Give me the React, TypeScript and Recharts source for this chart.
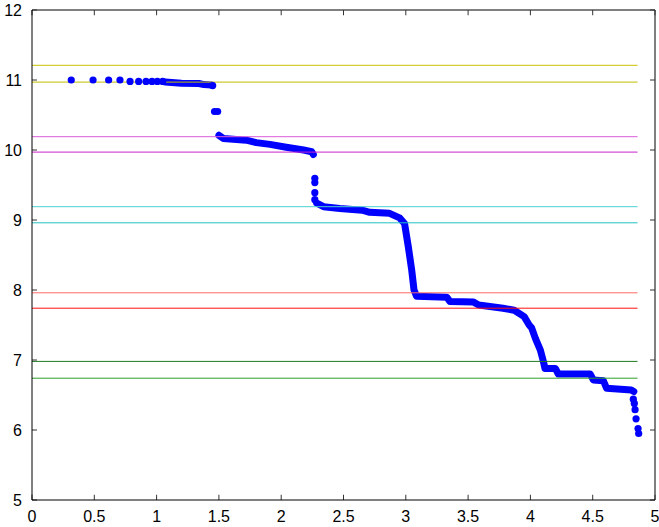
import { ComposedChart, Line, Scatter, XAxis, YAxis, ReferenceLine } from 'recharts'

const X_TICKS = [0, 0.5, 1, 1.5, 2, 2.5, 3, 3.5, 4, 4.5, 5]
const Y_TICKS = [5, 6, 7, 8, 9, 10, 11, 12]

// horizontal threshold lines (pairs), drawn from x=0 to LEVEL_END
const LEVEL_END = 4.86
const LEVELS = [11.21, 10.97, 10.19, 9.97, 9.19, 8.96, 7.96, 7.74, 6.98, 6.74]
const LEVEL_COLORS = [
  '#c8c400', '#c0bc00',
  '#dc5cdc', '#cc22cc',
  '#4cd0d0', '#22c0c0',
  '#ff6a6a', '#ff1010',
  '#1f7a1f', '#2ca02c',
]

// isolated markers
const SINGLE_X = [0.315, 0.49, 0.615, 0.706, 0.787, 0.856, 0.915, 0.963, 1.006, 1.049, 1.45, 1.465, 1.49,
  2.27, 2.27, 2.27, 2.27, 4.826, 4.834, 4.84, 4.848, 4.864, 4.869]
const SINGLE_Y = [11.0, 11.0, 11.0, 11.0, 10.98, 10.98, 10.98, 10.98, 10.98, 10.98, 10.92, 10.55, 10.55,
  9.595, 9.535, 9.39, 9.29, 6.44, 6.38, 6.29, 6.16, 6.02, 5.95]

// dense runs of markers, read as polylines
const BAND_1_X = [1.07, 1.2, 1.34, 1.38, 1.44]
const BAND_1_Y = [10.97, 10.955, 10.95, 10.935, 10.93]
const BAND_2_X = [1.5, 1.535, 1.72, 1.8, 1.91, 2.04, 2.18, 2.245, 2.258]
const BAND_2_Y = [10.21, 10.165, 10.14, 10.105, 10.08, 10.04, 10.0, 9.975, 9.935]
const BAND_3_X = [2.285, 2.34, 2.47, 2.65, 2.71, 2.87, 2.95, 2.99, 3.02, 3.047, 3.066, 3.087, 3.33, 3.355,
  3.54, 3.585, 3.78, 3.87, 3.95, 3.99, 4.01, 4.04, 4.08, 4.104, 4.117, 4.2, 4.224, 4.48, 4.505, 4.585,
  4.612, 4.81, 4.83]
const BAND_3_Y = [9.24, 9.19, 9.165, 9.14, 9.11, 9.095, 9.03, 8.95, 8.62, 8.29, 8.0, 7.91, 7.895, 7.835,
  7.83, 7.785, 7.74, 7.71, 7.62, 7.5, 7.46, 7.31, 7.14, 6.98, 6.88, 6.88, 6.8, 6.8, 6.715, 6.705,
  6.595, 6.57, 6.55]

const zip = (xs: number[], ys: number[]) => xs.map((x, i) => ({ x, y: ys[i] }))

const singles = zip(SINGLE_X, SINGLE_Y)
const bands = [zip(BAND_1_X, BAND_1_Y), zip(BAND_2_X, BAND_2_Y), zip(BAND_3_X, BAND_3_Y)]
const levels = LEVELS.map((v) => [{ x: 0, y: v }, { x: LEVEL_END, y: v }])

// inward tick marks, MATLAB style (length in data units)
const TICK_LEN_X = 0.04
const TICK_LEN_Y = 0.075

const BLUE = '#0000ff'
const tickFont = { fontSize: 16, fill: '#000', fontFamily: 'Liberation Sans, Arial, sans-serif' }

export default function App() {
  return (
    <div style={{ position: 'absolute', left: 0, top: 0, background: '#fff' }}>
      <ComposedChart width={659} height={527} margin={{ top: 10, right: 4, bottom: 0, left: 0 }}>
        <XAxis
          type="number" dataKey="x" domain={[0, 5]} ticks={X_TICKS} height={27}
          stroke="#000" tickLine={false} tickMargin={5} tick={tickFont} allowDataOverflow
        />
        <YAxis
          type="number" dataKey="y" domain={[5, 12]} ticks={Y_TICKS} width={32}
          stroke="#000" tickLine={false} tickMargin={4} tick={tickFont} allowDataOverflow
        />

        {bands.map((b, i) => (
          <Line
            key={`band${i}`} data={b} dataKey="y" type="linear"
            stroke={BLUE} strokeWidth={7} strokeLinecap="round" strokeLinejoin="round"
            dot={false} activeDot={false} isAnimationActive={false}
          />
        ))}
        <Scatter
          data={singles} dataKey="y" fill={BLUE} isAnimationActive={false}
          shape={(p: any) => <circle cx={p.cx} cy={p.cy} r={3.6} fill={BLUE} />}
        />
        {levels.map((d, i) => (
          <Line
            key={`lvl${i}`} data={d} dataKey="y" type="linear"
            stroke={LEVEL_COLORS[i]} strokeWidth={1} dot={false} activeDot={false} isAnimationActive={false}
          />
        ))}

        {/* box */}
        <ReferenceLine y={12} stroke="#000" />
        <ReferenceLine x={5} stroke="#000" />

        {/* tick marks */}
        {X_TICKS.map((t) => (
          <ReferenceLine key={`xb${t}`} segment={[{ x: t, y: 5 }, { x: t, y: 5 + TICK_LEN_Y }]} stroke="#333" />
        ))}
        {X_TICKS.map((t) => (
          <ReferenceLine key={`xt${t}`} segment={[{ x: t, y: 12 }, { x: t, y: 12 - TICK_LEN_Y }]} stroke="#333" />
        ))}
        {Y_TICKS.map((t) => (
          <ReferenceLine key={`yl${t}`} segment={[{ x: 0, y: t }, { x: TICK_LEN_X, y: t }]} stroke="#333" />
        ))}
        {Y_TICKS.map((t) => (
          <ReferenceLine key={`yr${t}`} segment={[{ x: 5, y: t }, { x: 5 - TICK_LEN_X, y: t }]} stroke="#333" />
        ))}
      </ComposedChart>
    </div>
  )
}
